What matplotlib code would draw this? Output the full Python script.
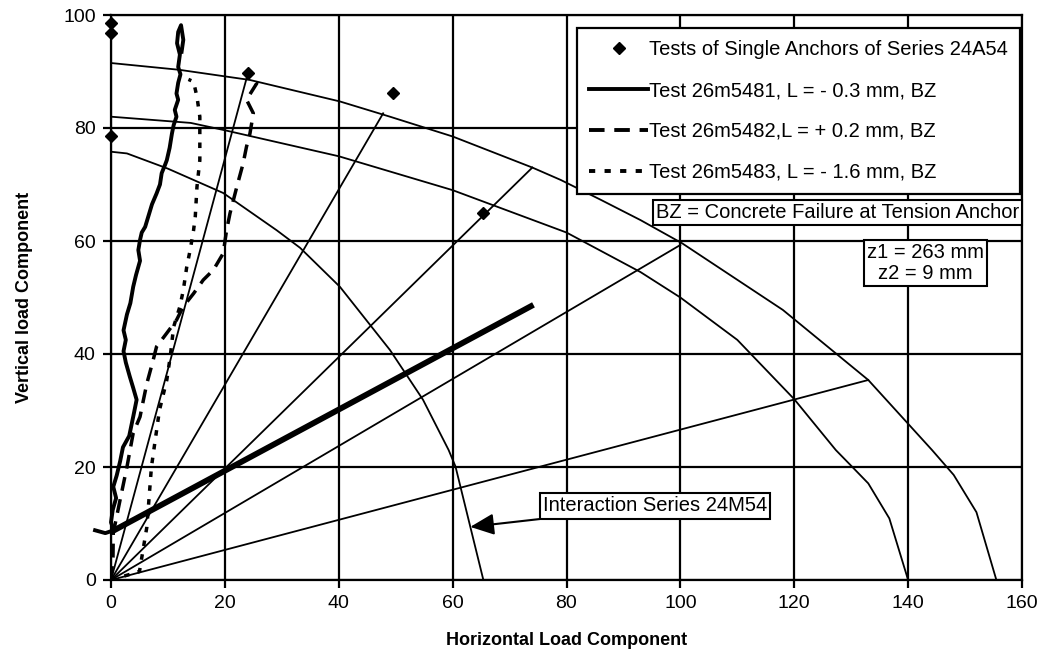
import matplotlib
matplotlib.use("Agg")
import matplotlib.pyplot as plt
from matplotlib.lines import Line2D

plt.rcParams['font.family'] = ['Liberation Sans', 'DejaVu Sans']

# ---------------- data ----------------
xticks = [0, 20, 40, 60, 80, 100, 120, 140, 160]
yticks = [0, 20, 40, 60, 80, 100]

# interaction curves
inner_x = [0, 2.8, 10, 19.7, 29.1, 33.2, 40.2, 49, 54.8, 59.3, 60.5, 65.4]
inner_y = [75.8, 75.5, 72.8, 68.5, 61.9, 58.8, 51.9, 40.7, 31.9, 23, 20.1, 0]

middle_x = [0, 14, 20, 40, 49, 60, 80, 93, 100, 110, 120, 127.3, 130.4, 133, 136.7, 140]
middle_y = [82, 80.9, 79.6, 75, 72.3, 69, 61.5, 54.5, 50, 42.5, 32, 23, 19.8, 17.1, 10.9, 0]

outer_x = [0, 12, 24.4, 40.2, 49, 60, 74, 79, 86, 93, 100.3, 118, 133, 144.2, 148, 152, 155.5]
outer_y = [91.5, 90.3, 88.5, 84.7, 82, 78.5, 73, 70.8, 67.3, 63.7, 59.6, 47.8, 35.4, 23, 18.6, 12, 0]

# rays from origin (end points)
ray_x = [24, 47.8, 74, 100, 133]
ray_y = [89.5, 82.6, 73, 59.3, 35.4]

# thick straight line
thick_x = [0, 74.2]
thick_y = [8.5, 48.7]

# single anchor tests
single_x = [0, 0, 0, 24, 49.6, 65.4]
single_y = [98.6, 96.8, 78.5, 89.7, 86.2, 65]

# test 26m5481 (solid)
t1_x = [-2.8, -1, 0.5, 0, 0.3, 0.9, 0.4, 1.0, 1.6, 2.1, 3.2, 3.9, 4.5, 3.9, 3.3, 2.6, 2.2, 2.6,
        2.2, 2.8, 3.4, 3.9, 4.4, 5.1, 4.8, 5.1, 5.4, 6.0, 6.6, 7.2, 8.0, 8.6, 8.9, 9.5, 9.8,
        10.3, 10.7, 11.0, 11.5, 11.2, 11.8, 11.5, 11.8, 12.2, 11.8, 12.1, 11.6, 11.8, 12.3, 12.7, 12.4]
t1_y = [8.8, 8.3, 8.8, 10.2, 12.4, 14.5, 16.5, 18.5, 21.0, 23.5, 25.5, 28.9, 31.9, 34.0, 36.0,
        38.5, 40.5, 42.5, 44.2, 47.0, 49.0, 51.9, 54.0, 56.5, 58.4, 60.2, 61.5, 62.5, 64.5,
        66.5, 68.4, 70.0, 72.0, 73.5, 74.3, 76.5, 79.0, 80.5, 82.0, 83.2, 85.0, 86.1, 88.0,
        89.5, 90.8, 93.0, 95.0, 97.0, 98.2, 95.6, 93.5]

# test 26m5482 (long dash)
t2_x = [0, 0.35, 0.4, 1.6, 2.8, 3.9, 5.1, 5.7, 6.3, 7.4, 8.0, 9.8, 11.5, 12.7, 14.5, 16.2,
        18.0, 19.7, 20.3, 20.9, 22.1, 23.2, 23.8, 24.4, 25.0, 23.8, 25.6, 24.6]
t2_y = [0, 4, 8.3, 14.2, 20, 26, 28.9, 31.9, 34.8, 38.9, 41.3, 43.7, 46, 48.4, 50.7, 53.1,
        54.9, 57.8, 61.9, 64.9, 69.6, 73.7, 76.7, 79, 82.6, 85, 87.9, 88.6]

# test 26m5483 (short dash)
t3_x = [0, 5.0, 6.3, 7.1, 8.5, 9.8, 10.4, 11.0, 12.1, 12.7, 13.3, 13.9, 14.5, 14.8, 15.1,
        15.6, 15.6, 15.6, 15.1, 14.5, 13.6]
t3_y = [0, 1.5, 9.4, 20, 30, 35.4, 39.5, 44.8, 48.4, 51.3, 55.4, 58.4, 61.9, 64.3, 69.6,
        74.3, 77.9, 82, 85.5, 88.2, 88.6]

legend_labels = ["Tests of Single Anchors of Series 24A54",
                 "Test 26m5481, L = - 0.3 mm, BZ",
                 "Test 26m5482,L = + 0.2 mm, BZ",
                 "Test 26m5483, L = - 1.6 mm, BZ"]

# ---------------- figure ----------------
fig = plt.figure(figsize=(10.45, 6.58), dpi=100)
ax = fig.add_axes([111/1045, 1-580/658, (1022-111)/1045, (580-15)/658])

ax.set_xlim(0, 160)
ax.set_ylim(0, 100)
ax.set_xticks(xticks)
ax.set_yticks(yticks)
ax.grid(True, color='black', linewidth=1.6)
ax.set_axisbelow(True)
for s in ax.spines.values():
    s.set_linewidth(1.6)
ax.tick_params(axis='both', direction='out', length=6, width=1.6, labelsize=14, pad=5)

lw = 1.3
ax.plot(inner_x, inner_y, color='black', lw=lw)
ax.plot(middle_x, middle_y, color='black', lw=lw)
ax.plot(outer_x, outer_y, color='black', lw=lw)
for rx, ry in zip(ray_x, ray_y):
    ax.plot([0, rx], [0, ry], color='black', lw=lw)
ax.plot(thick_x, thick_y, color='black', lw=4.2, solid_capstyle='butt')

ax.plot(t1_x, t1_y, color='black', lw=2.8, clip_on=False, solid_joinstyle='round')
ax.plot(t2_x, t2_y, color='black', lw=2.5, dashes=(4, 2.5))
ax.plot(t3_x, t3_y, color='black', lw=2.5, dashes=(1.6, 2.4))
ax.plot(single_x, single_y, linestyle='none', marker='D', color='black', markersize=6.5,
        clip_on=False, zorder=5)

# legend
handles = [Line2D([], [], linestyle='none', marker='D', color='black', markersize=6),
           Line2D([], [], color='black', lw=2.8),
           Line2D([], [], color='black', lw=2.8, dashes=(4, 2.5)),
           Line2D([], [], color='black', lw=2.8, dashes=(1.6, 2.4))]
leg = ax.legend(handles, legend_labels, loc='upper right', bbox_to_anchor=(0.998, 0.9765),
                borderaxespad=0, fontsize=14.5, fancybox=False, framealpha=1, edgecolor='black',
                handlelength=2.95, handletextpad=0.05, labelspacing=1.08, borderpad=0.6)
leg.get_frame().set_linewidth(1.6)

box = dict(boxstyle='square,pad=0.15', facecolor='white', edgecolor='black', linewidth=1.5)
ax.text(159.5, 65.0, "BZ = Concrete Failure at Tension Anchor", fontsize=14.5, ha='right',
        va='center', bbox=box, zorder=6)
ax.text(143.1, 56.1, "z1 = 263 mm\nz2 = 9 mm", fontsize=14.5, ha='center', va='center',
        bbox=box, zorder=6, linespacing=1.1)
ax.annotate("Interaction Series 24M54", xy=(63.1, 9.4), xytext=(95.6, 13.1),
            fontsize=14.5, ha='center', va='center', bbox=box, zorder=6,
            arrowprops=dict(arrowstyle='-|>,head_length=1.0,head_width=0.45', color='black',
                            lw=1.5, shrinkA=0, shrinkB=0))

ax.set_xlabel("Horizontal Load Component", fontsize=13, fontweight='bold', labelpad=14)
ax.set_ylabel("Vertical load Component", fontsize=13, fontweight='bold', labelpad=22)

fig.savefig("out.png", dpi=100)
